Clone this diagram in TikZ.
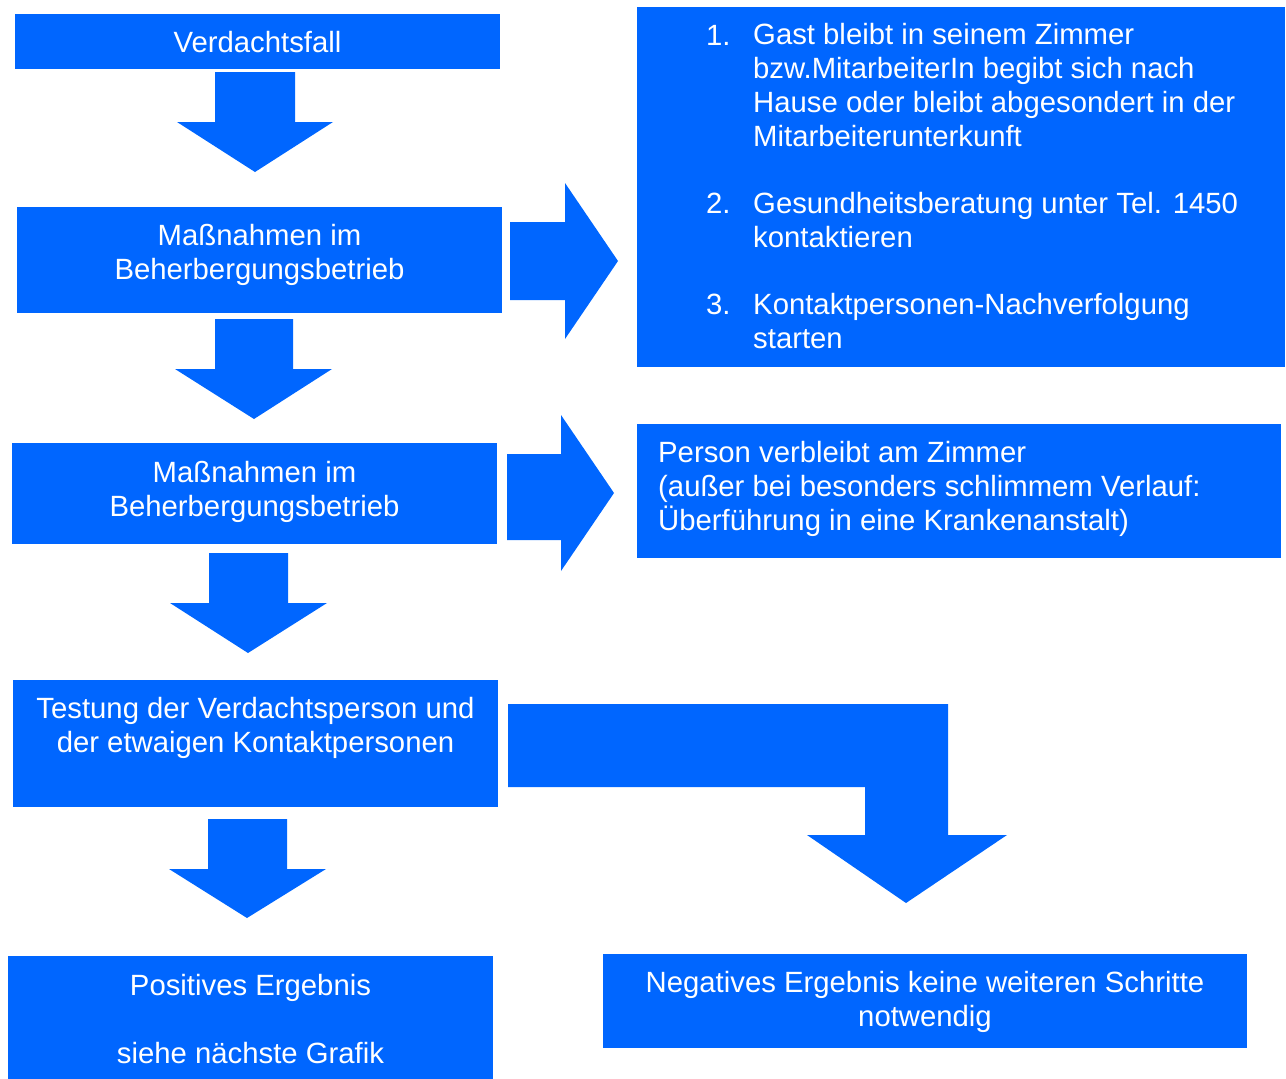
\documentclass[tikz,border=0pt]{standalone}
\usepackage{fontspec}
\setmainfont{Liberation Sans}
\definecolor{fc}{HTML}{0066FF}
\begin{document}
\begin{tikzpicture}[x=1pt,y=-1pt,
  box/.style={fill=fc,draw=none,inner sep=0pt},
  txt/.style={text=white,inner sep=0pt,font=\fontsize{29.3}{34}\selectfont},
  blk/.style={fill=fc,draw=none}]
\useasboundingbox (0,0) rectangle (1286,1079);
% boxes
\node[box,minimum width=485pt,minimum height=55pt] (b1) at (257.5,41.5) {};
\node[box,minimum width=485pt,minimum height=106pt] (b2) at (259.5,260) {};
\node[box,minimum width=485pt,minimum height=101pt] (b3) at (254.5,493.5) {};
\node[box,minimum width=485pt,minimum height=127pt] (b4) at (255.5,743.5) {};
\node[box,minimum width=485pt,minimum height=123pt] (b5) at (250.5,1017.5) {};
\node[box,minimum width=644pt,minimum height=94pt] (b6) at (925,1001) {};
\node[box,minimum width=648pt,minimum height=360pt] (r1) at (961,187) {};
\node[box,minimum width=644pt,minimum height=134pt] (r2) at (959,491) {};
% texts
\node[txt,anchor=base] (t1) at (257.5,52) {Verdachtsfall};
\node[txt,align=center] (t2) at (259.5,255) {Maßnahmen im\\Beherbergungsbetrieb};
\node[txt,align=center] (t3) at (254.5,491.5) {Maßnahmen im\\Beherbergungsbetrieb};
\node[txt,align=center] (t4) at (255.5,728) {Testung der Verdachtsperson und\\der etwaigen Kontaktpersonen};
\node[txt,align=center] (t5) at (250.5,1019) {Positives Ergebnis\\[34pt]siehe nächste Grafik};
\node[txt,align=center] (t6) at (925,1002) {Negatives Ergebnis keine weiteren Schritte\\notwendig};
\node[txt,anchor=base west] (n1) at (706,45) {1.};
\node[txt,anchor=base west] (n2) at (706,213) {2.};
\node[txt,anchor=base west] (n3) at (706,314) {3.};
\node[txt,anchor=west,align=left] (i1) at (753,85.5) {Gast bleibt in seinem Zimmer\\bzw.MitarbeiterIn begibt sich nach\\Hause oder bleibt abgesondert in der\\Mitarbeiterunterkunft};
\node[txt,anchor=west,align=left] (i2) at (753,220.5) {Gesundheitsberatung unter Tel. 1450\\kontaktieren};
\node[txt,anchor=west,align=left] (i3) at (753,321) {Kontaktpersonen-Nachverfolgung\\starten};
\node[txt,anchor=west,align=left] (p1) at (658,489) {Person verbleibt am Zimmer\\(außer bei besonders schlimmem Verlauf:\\Überführung in eine Krankenanstalt)};
% block arrows
\fill[blk] (215,72)--(295,72)--(295,122)--(333,122)--(255,172)--(177,122)--(215,122)--cycle;
\fill[blk] (510,222)--(565,222)--(565,183)--(618,261)--(565,339)--(565,300)--(510,300)--cycle;
\fill[blk] (215,319)--(293,319)--(293,369)--(332,369)--(254,419)--(175,369)--(215,369)--cycle;
\fill[blk] (507,454)--(561,454)--(561,415)--(614,493)--(561,571)--(561,540)--(507,540)--cycle;
\fill[blk] (209,553)--(288,553)--(288,603)--(327,603)--(248,653)--(170,603)--(209,603)--cycle;
\fill[blk] (508,704)--(948,704)--(948,835)--(1007,835)--(906,903)--(807,835)--(865,835)--(865,787)--(508,787)--cycle;
\fill[blk] (208,819)--(287,819)--(287,869)--(326,869)--(247,918)--(169,869)--(208,869)--cycle;
\end{tikzpicture}
\end{document}
